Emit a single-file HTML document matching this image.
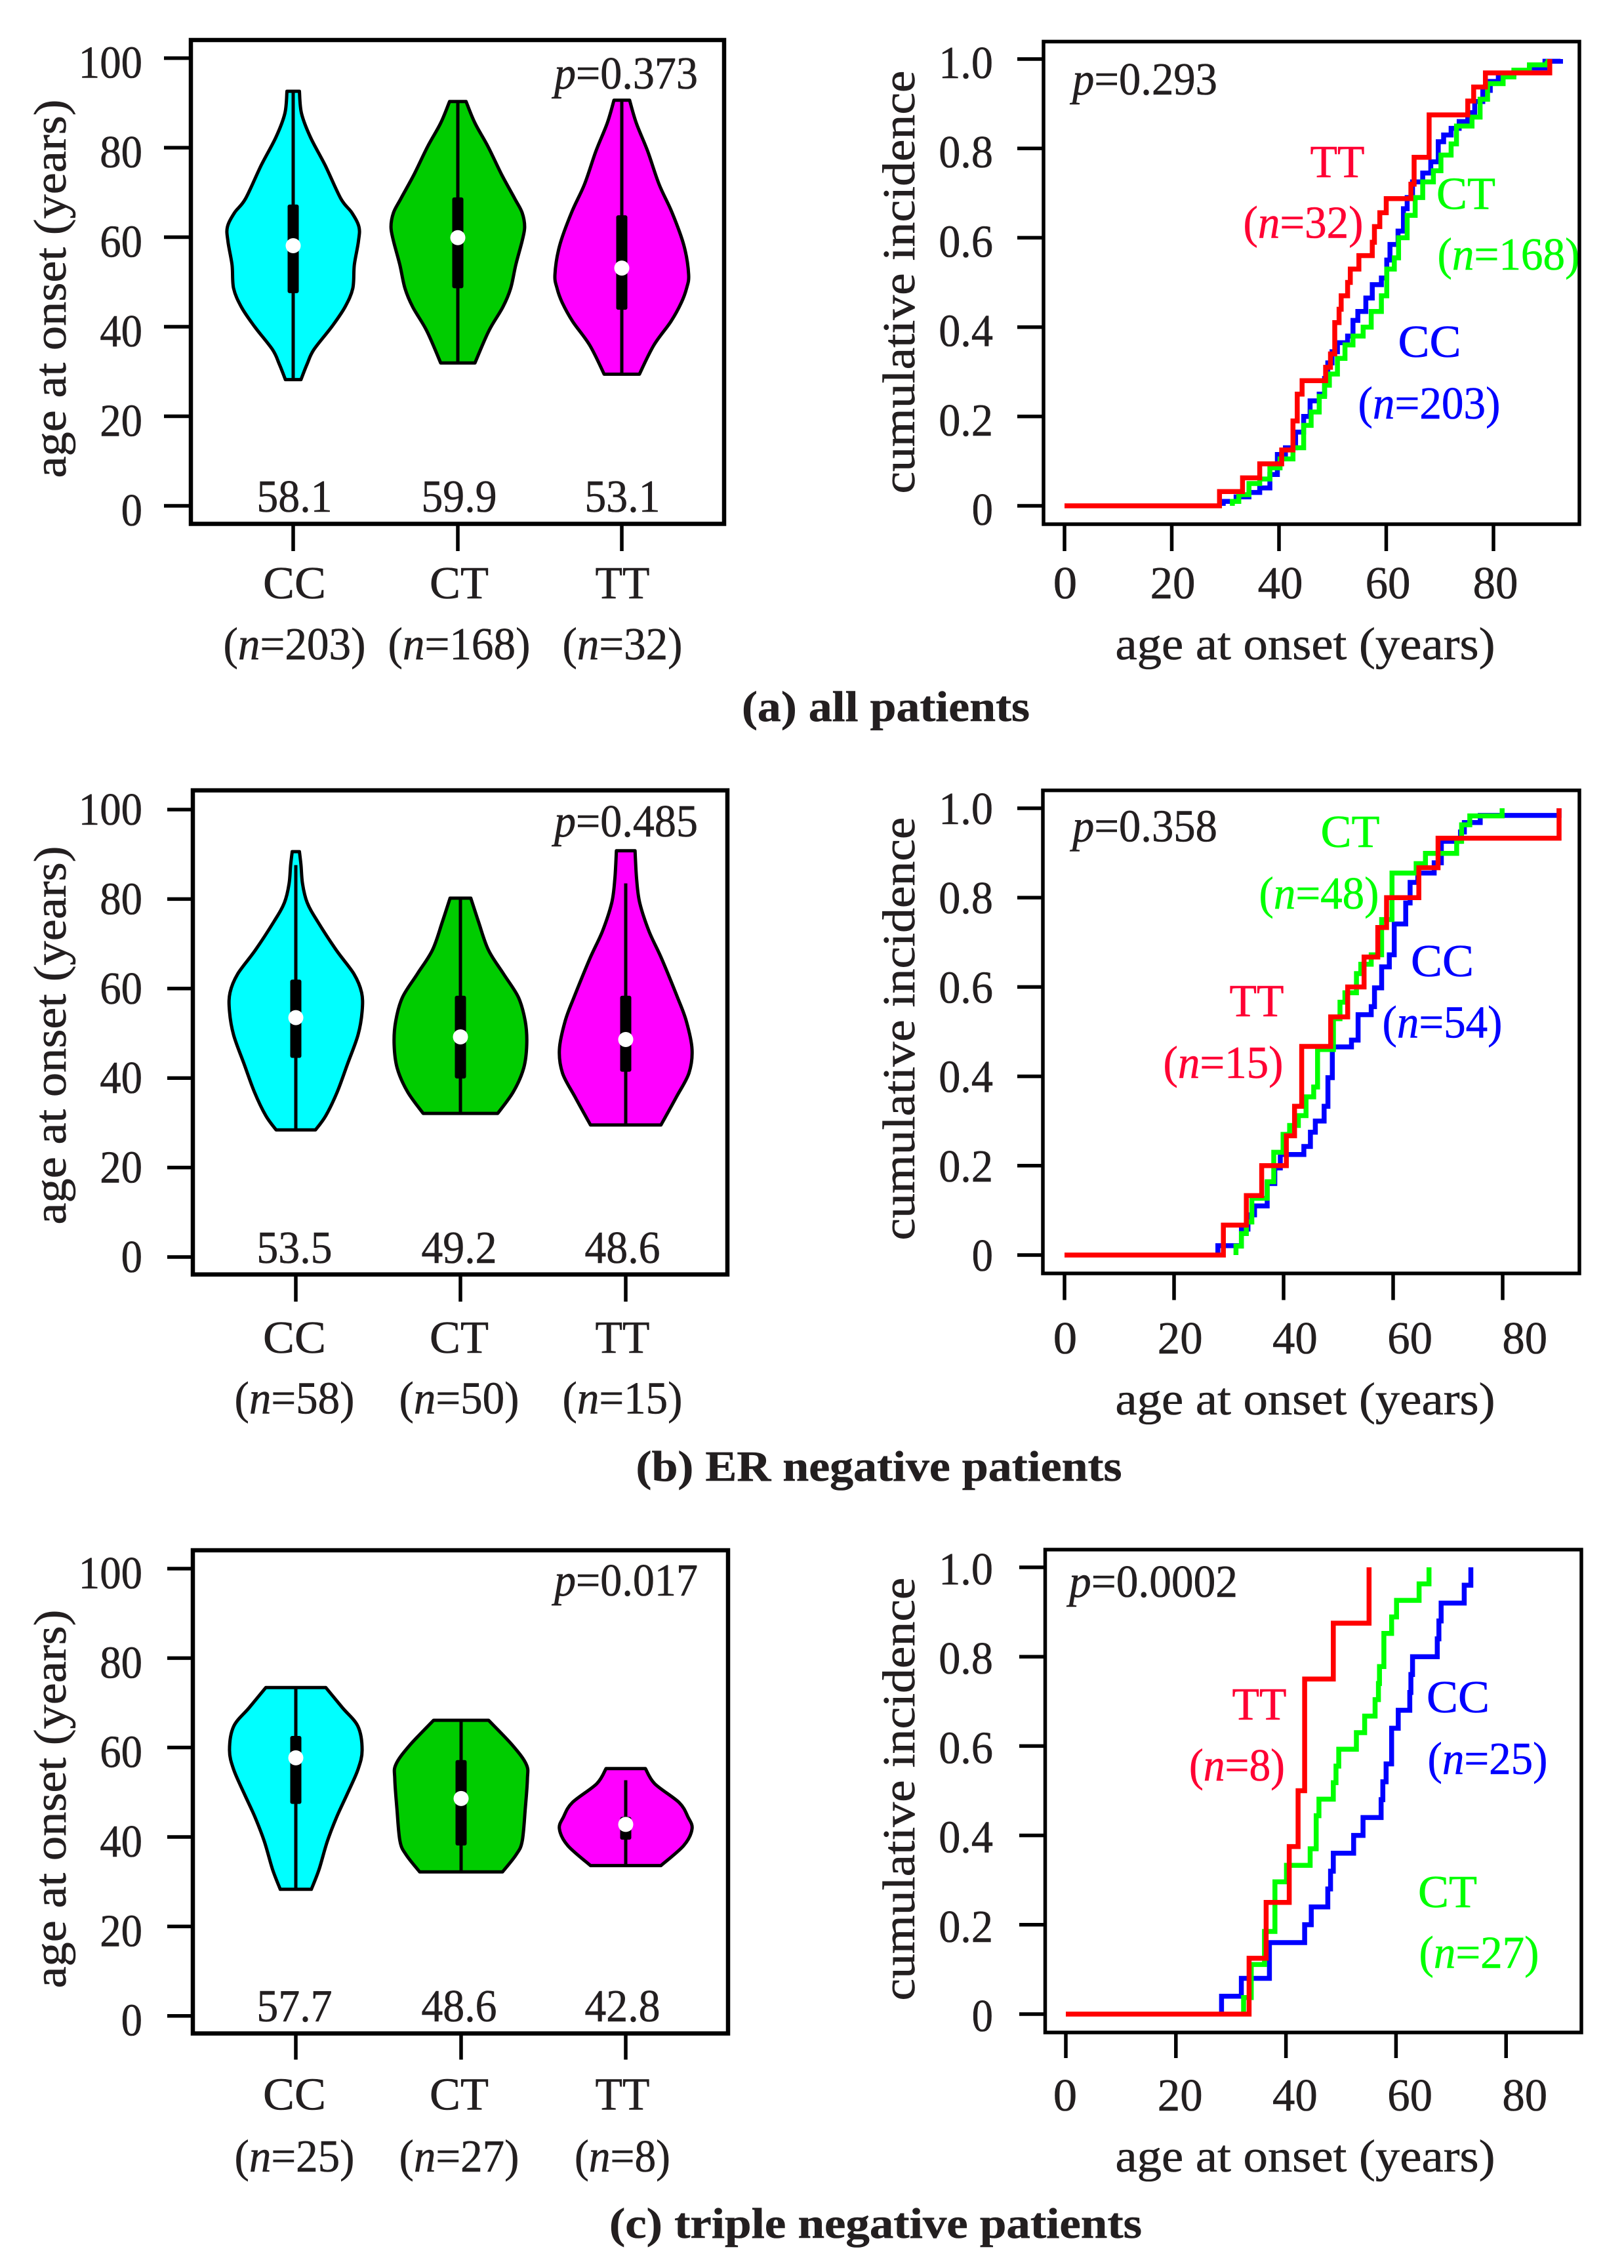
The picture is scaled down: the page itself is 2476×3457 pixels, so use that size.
<!DOCTYPE html>
<html lang="en">
<head>
<meta charset="utf-8">
<title>Age at onset by genotype</title>
<style>
html,body{margin:0;padding:0;background:#fff;}
svg{display:block;}
text{font-family:"Liberation Serif",serif;fill:#231f20;stroke:#231f20;stroke-width:0.6px;}
</style>
</head>
<body>
<svg id="fig" xmlns="http://www.w3.org/2000/svg" width="2476" height="3457" viewBox="0 0 2476 3457"></svg>
<script>
/* ---------- shared labels and ticks ---------- */
const categories = ['CC', 'CT', 'TT'];
const ageTicks = [0, 20, 40, 60, 80, 100];
const incidenceTicks = [0, 0.2, 0.4, 0.6, 0.8, 1.0];
const onsetTicks = [0, 20, 40, 60, 80];
const captions = ['(a) all patients', '(b) ER negative patients', '(c) triple negative patients'];

/* ---------- (a) all patients: violin values ---------- */
const aMedians = [58.1, 59.9, 53.1];
const aCounts = [203, 168, 32];
const aP = 'p=0.373';
const aQ1 = [47.5, 48.6, 43.8];
const aQ3 = [67.3, 68.9, 64.9];
const aWhiskerLow = [28.2, 31.9, 29.4];
const aWhiskerHigh = [92.6, 90.3, 90.6];
const aCCAges = [92.6, 87.7, 82.4, 76, 68.6, 65.5, 62.3, 59.1, 53.8, 48.6, 44.4, 40.1, 34.9, 31.7, 28.2];
const aCCDensity = [12, 16, 33, 62, 92, 113, 127, 126, 118, 115, 100, 75, 40, 27, 15];
const aCTAges = [90.3, 85.5, 80.3, 73.9, 68.6, 65.5, 62.3, 59.1, 53.9, 48.6, 44.4, 39.1, 31.9];
const aCTDensity = [16, 33, 58, 85, 110, 124, 129, 124, 112, 102, 87, 60, 33];
const aTTAges = [90.6, 85.5, 79.2, 71.8, 65.5, 58.1, 51.7, 48.6, 45.4, 41.2, 35.9, 29.4];
const aTTDensity = [15, 28, 50, 72, 97, 120, 129, 125, 115, 95, 62, 34];

/* ---------- (b) ER negative: violin values ---------- */
const bMedians = [53.5, 49.2, 48.6];
const bCounts = [58, 50, 15];
const bP = 'p=0.485';
const bQ1 = [44.5, 39.9, 41.4];
const bQ3 = [62, 58.4, 58.4];
const bWhiskerLow = [28.4, 32.1, 29.5];
const bWhiskerHigh = [87.6, 80.2, 83.5];
const bCCAges = [90.6, 87.6, 83.4, 79.2, 75, 68.6, 63.3, 59.1, 54.9, 49.6, 43.2, 36.9, 31.6, 28.4];
const bCCDensity = [7, 10, 13, 22, 42, 78, 112, 127, 128, 120, 100, 80, 58, 38];
const bCTAges = [80.2, 74.9, 68.6, 63.3, 58, 52.7, 47.5, 42.2, 36.9, 32.1];
const bCTDensity = [20, 35, 54, 83, 112, 125, 128, 122, 102, 72];
const bTTAges = [90.8, 84.5, 79.2, 72.8, 66.5, 58, 52.7, 46.4, 41.1, 35.8, 29.5];
const bTTDensity = [18, 21, 27, 45, 70, 100, 117, 128, 122, 98, 68];

/* ---------- (c) triple negative: violin values ---------- */
const cMedians = [57.7, 48.6, 42.8];
const cCounts = [25, 27, 8];
const cP = 'p=0.017';
const cQ1 = [47.4, 38.1, 39.4];
const cQ3 = [62.6, 57.2, 44.5];
const cWhiskerLow = [28.3, 32.2, 33.6];
const cWhiskerHigh = [73.4, 66.1, 52.7];
const cCCAges = [73.4, 68.9, 64.7, 59.4, 55.1, 49.8, 44.5, 39.1, 32.8, 28.3];
const cCCDensity = [58, 90, 120, 128, 120, 100, 79, 61, 45, 30];
const cCTAges = [66.1, 60.4, 56.2, 53, 46.6, 39.1, 36, 32.2];
const cCTDensity = [53, 100, 126, 128, 124, 118, 106, 80];
const cTTAges = [55.3, 51.9, 47.7, 44.5, 41.8, 38.1, 33.6];
const cTTDensity = [38, 56, 103, 120, 128, 112, 68];

/* ---------- (a) cumulative incidence ---------- */
const aIncP = 'p=0.293';
const aIncCounts = [203, 168, 32];
const aIncCCAges = [29.6, 32, 34.4, 36.4, 38.3, 39.7, 41.2, 43.1, 44.6, 45.8, 47.5, 48.5, 49.1, 49.9, 50.9, 52.8, 53.8, 54.7, 56.2, 57.4, 59.1, 60.1, 60.7, 62.2, 63.2, 63.9, 64.9, 66.8, 68.3, 69.7, 70.7, 72.1, 73.6, 75.2, 76.5, 78, 79.4, 80.9, 83.8, 86.7, 89.6, 92.5];
const aIncCCValues = [0.01, 0.02, 0.03, 0.04, 0.07, 0.115, 0.13, 0.165, 0.2, 0.235, 0.25, 0.285, 0.32, 0.345, 0.365, 0.38, 0.415, 0.435, 0.465, 0.495, 0.51, 0.55, 0.585, 0.615, 0.665, 0.69, 0.725, 0.745, 0.77, 0.815, 0.83, 0.845, 0.86, 0.88, 0.905, 0.93, 0.95, 0.965, 0.97, 0.98, 0.995, 1.0];
const aIncCTAges = [31.3, 32.5, 34.4, 36.4, 38.3, 40.2, 42.6, 44.6, 46, 47.5, 48.5, 49.4, 50.9, 52.3, 53.8, 55.7, 57.2, 59.1, 60.1, 61.5, 62.3, 63.9, 65.4, 66.8, 68.8, 70.2, 72.1, 73.1, 76, 77.5, 78.9, 81.8, 83.8, 86.7, 90, 90.2];
const aIncCTValues = [0.01, 0.025, 0.05, 0.06, 0.085, 0.105, 0.13, 0.18, 0.21, 0.245, 0.27, 0.295, 0.33, 0.36, 0.38, 0.4, 0.435, 0.47, 0.53, 0.555, 0.6, 0.65, 0.69, 0.725, 0.75, 0.785, 0.81, 0.85, 0.87, 0.91, 0.945, 0.96, 0.975, 0.987, 0.99, 1.0];
const aIncTTAges = [28.9, 33.2, 36.4, 40.5, 42.6, 43.4, 44.3, 48.7, 49.6, 50.4, 51.2, 51.6, 52.8, 53.3, 54.9, 57.4, 57.8, 58.8, 60, 64.6, 65.2, 68, 75.2, 76.3, 78.5, 90.5];
const aIncTTValues = [0.032, 0.0625, 0.094, 0.125, 0.19, 0.25, 0.28, 0.31, 0.34, 0.41, 0.44, 0.47, 0.5, 0.53, 0.56, 0.59, 0.625, 0.656, 0.6875, 0.72, 0.78, 0.875, 0.906, 0.9375, 0.969, 1.0];

/* ---------- (b) cumulative incidence ---------- */
const bIncP = 'p=0.358';
const bIncCounts = [54, 48, 15];
const bIncCCAges = [28, 32.3, 33.5, 34.7, 37, 38.4, 39.4, 43.7, 44.9, 45.8, 47.4, 48.1, 48.9, 52.4, 53.6, 56, 56.6, 57.9, 59.3, 60.2, 62.3, 63.1, 64.5, 67.5, 68.8, 72.3, 73, 75.9, 90.3];
const bIncCCValues = [0.021, 0.058, 0.09, 0.11, 0.16, 0.195, 0.225, 0.243, 0.275, 0.3, 0.333, 0.397, 0.466, 0.481, 0.538, 0.556, 0.598, 0.645, 0.672, 0.741, 0.788, 0.834, 0.855, 0.878, 0.926, 0.947, 0.968, 0.984, 1.0];
const bIncCTAges = [31.3, 32.3, 33.2, 34.2, 37, 38.2, 39.9, 41.1, 42.7, 44.1, 45.5, 46.2, 49.1, 50.3, 51.2, 53.3, 54.1, 56, 57.9, 59.8, 64.2, 65.9, 71.6, 72.5, 74, 79.9];
const bIncCTValues = [0.02, 0.048, 0.074, 0.127, 0.164, 0.23, 0.27, 0.29, 0.312, 0.354, 0.376, 0.46, 0.529, 0.566, 0.587, 0.63, 0.651, 0.672, 0.751, 0.855, 0.876, 0.899, 0.926, 0.963, 0.983, 1.0];
const bIncTTAges = [29, 33.2, 36, 40.5, 42, 43.3, 48.6, 51.7, 54.7, 57.2, 58.8, 64.7, 68.2, 90.3];
const bIncTTValues = [0.067, 0.133, 0.2, 0.267, 0.333, 0.467, 0.533, 0.6, 0.667, 0.733, 0.8, 0.867, 0.933, 1.0];

/* ---------- (c) cumulative incidence ---------- */
const cIncP = 'p=0.0002';
const cIncCounts = [25, 27, 8];
const cIncCCAges = [28.3, 31.9, 37, 43.4, 44.6, 47.6, 48.1, 48.6, 52.3, 54, 57.3, 57.6, 58.2, 59.2, 60.4, 62.5, 62.7, 63, 67.5, 67.8, 68.2, 72.4, 73.6];
const cIncCCValues = [0.04, 0.08, 0.16, 0.2, 0.24, 0.28, 0.32, 0.36, 0.4, 0.44, 0.48, 0.52, 0.56, 0.64, 0.68, 0.72, 0.76, 0.8, 0.84, 0.88, 0.92, 0.96, 1.0];
const cIncCTAges = [32.3, 33.7, 36.1, 38, 40.1, 44.4, 45.5, 46, 48.6, 49.1, 49.6, 52.8, 54.3, 56.2, 56.8, 57, 57.8, 59.2, 60.1, 64.2, 66];
const cIncCTValues = [0.037, 0.111, 0.185, 0.296, 0.333, 0.37, 0.444, 0.481, 0.518, 0.555, 0.593, 0.63, 0.667, 0.704, 0.74, 0.778, 0.852, 0.889, 0.926, 0.963, 1.0];
const cIncTTAges = [33.3, 36.4, 40.6, 42.2, 43.4, 48.6, 55.1];
const cIncTTValues = [0.125, 0.25, 0.375, 0.5, 0.75, 0.875, 1.0];

/* ---------- drawing ---------- */
const NS = 'http://www.w3.org/2000/svg';
const fig = document.getElementById('fig');
const VIOLIN_FILL = ['#00ffff', '#00cc00', '#ff00ff'];
const LINE_COLOR = ['#0000ff', '#00ff00', '#ff0000'];
const ANNOT_COLOR = ['#0000ff', '#00ff00', '#ff0033'];

function make(tag, parent, name, attrs) {
  const el = document.createElementNS(NS, tag);
  
  
  for (const k in attrs) el.setAttribute(k, attrs[k]);
  parent.appendChild(el);
  return el;
}
function numWidth(s) {
  let w = 0;
  for (const ch of s) w += ch === '.' ? 18 : 32.4;
  return w;
}
function text(parent, name, str, x, y, width, extra) {
  const attrs = Object.assign({x: x, y: y, 'font-size': 70, 'text-anchor': 'middle', textLength: width, lengthAdjust: 'spacingAndGlyphs'}, extra || {});
  const el = make('text', parent, name, attrs);
  str.split(/([np])(?==)/).forEach(function (part, i) {
    if (i % 2 === 1) {
      const t = document.createElementNS(NS, 'tspan');
      t.setAttribute('font-style', 'italic');
      t.textContent = part;
      el.appendChild(t);
    } else if (part) {
      el.appendChild(document.createTextNode(part));
    }
  });
  return el;
}
function countWidth(n) {
  const digits = String(n).length;
  return digits === 3 ? 217 : (digits === 2 ? 183 : 146);
}
function catWidth(c) { return c === 'CC' ? 96 : (c === 'CT' ? 90 : 83); }
function frame(g, prefix, b, sw) {
  make('rect', g, prefix + '-plot-frame', {x: b.l, y: b.t, width: b.r - b.l, height: b.b - b.t, fill: 'none', stroke: '#000', 'stroke-width': sw});
}
function tick(g, name, x1, y1, x2, y2) {
  make('line', g, name, {x1: x1, y1: y1, x2: x2, y2: y2, stroke: '#000', 'stroke-width': 5.5});
}
/* Catmull-Rom smoothing of one side of a violin outline */
function smoothSide(pts) {
  let s = '';
  for (let i = 0; i < pts.length - 1; i++) {
    const p0 = pts[Math.max(i - 1, 0)], p1 = pts[i], p2 = pts[i + 1], p3 = pts[Math.min(i + 2, pts.length - 1)];
    const c1x = p1[0] + (p2[0] - p0[0]) / 6, c1y = p1[1] + (p2[1] - p0[1]) / 6;
    const c2x = p2[0] - (p3[0] - p1[0]) / 6, c2y = p2[1] - (p3[1] - p1[1]) / 6;
    s += 'C' + c1x.toFixed(1) + ' ' + c1y.toFixed(1) + ' ' + c2x.toFixed(1) + ' ' + c2y.toFixed(1) + ' ' + p2[0].toFixed(1) + ' ' + p2[1].toFixed(1);
  }
  return s;
}

function violinPanel(p, d) {
  const g = make('g', fig, 'panel-' + p.id + '-violin-plot', {});
  const y = function (v) { return p.y0 + (p.y100 - p.y0) * v / 100; };
  const hw = function (v) { return v * 0.79; };

  ageTicks.forEach(function (v) {
    tick(g, 'y-tick-' + v, p.tickLeft, y(v), p.box.l, y(v));
    const s = String(v);
    text(g, 'y-tick-label-' + v, s, 217, y(v) + p.labelDy, numWidth(s), {'text-anchor': 'end'});
  });
  text(g, 'y-axis-title', 'age at onset (years)', 0, 0, 577, {transform: 'translate(100 ' + p.titleY + ') rotate(-90)'});

  categories.forEach(function (cat, i) {
    const cx = p.cx[i];
    const ages = d.ages[i], dens = d.density[i];
    const left = ages.map(function (a, j) { return [cx - hw(dens[j]), y(a)]; });
    const right = ages.map(function (a, j) { return [cx + hw(dens[j]), y(a)]; }).reverse();
    const path = 'M' + left[0][0].toFixed(1) + ' ' + left[0][1].toFixed(1) + smoothSide(left) + 'L' + right[0][0].toFixed(1) + ' ' + right[0][1].toFixed(1) + smoothSide(right) + 'Z';
    make('path', g, 'violin-' + cat, {d: path, fill: VIOLIN_FILL[i], stroke: '#000', 'stroke-width': 5, 'stroke-linejoin': 'round'});
    make('line', g, 'whisker-' + cat, {x1: cx, y1: y(d.low[i]), x2: cx, y2: y(d.high[i]), stroke: '#000', 'stroke-width': 5});
    make('rect', g, 'iqr-box-' + cat, {x: cx - 8.5, y: y(d.q3[i]), width: 17, height: y(d.q1[i]) - y(d.q3[i]), rx: 3, fill: '#000'});
    make('circle', g, 'median-dot-' + cat, {cx: cx, cy: y(d.medians[i]), r: 11.5, fill: '#fff'});
    const ms = d.medians[i].toFixed(1);
    text(g, 'median-label-' + cat, ms, p.lx[i], p.medianY, numWidth(ms));
    tick(g, 'x-tick-' + cat, cx, p.box.b, cx, p.tickBottom);
    text(g, 'x-label-' + cat, cat, p.lx[i], p.catY, catWidth(cat));
    text(g, 'count-label-' + cat, '(n=' + d.counts[i] + ')', p.lx[i], p.countY, countWidth(d.counts[i]));
  });
  frame(g, 'violin', p.box, 6.5);
  text(g, 'p-value', d.p, 845, p.pY, 219, {'text-anchor': 'start'});
}

function incidencePanel(p, d) {
  const g = make('g', fig, 'panel-' + p.id + '-cumulative-incidence-plot', {});
  const x = function (v) { return p.x0 + p.k * v; };
  const y = function (v) { return p.y0 + (p.y1 - p.y0) * v; };

  incidenceTicks.forEach(function (v) {
    tick(g, 'y-tick-' + v, p.tickLeft, y(v), p.box.l, y(v));
    const s = v === 0 ? '0' : v.toFixed(1);
    text(g, 'y-tick-label-' + v, s, 1514, y(v) + p.labelDy, numWidth(s), {'text-anchor': 'end'});
  });
  onsetTicks.forEach(function (v) {
    tick(g, 'x-tick-' + v, x(v), p.box.b, x(v), p.tickBottom);
    const s = String(v);
    text(g, 'x-tick-label-' + v, s, p.lx0 + p.lk * v, p.xLabelY, numWidth(s) + 4);
  });
  text(g, 'y-axis-title', 'cumulative incidence', 0, 0, 645, {transform: 'translate(1394 ' + p.titleY + ') rotate(-90)'});
  text(g, 'x-axis-title', 'age at onset (years)', 1990, p.xTitleY, 579);

  categories.forEach(function (cat, i) {
    const ages = d.ages[i], vals = d.values[i];
    let path = 'M' + x(i === 2 ? 0 : ages[0]).toFixed(1) + ' ' + y(0).toFixed(1);
    ages.forEach(function (a, j) { path += 'H' + x(a).toFixed(1) + 'V' + y(vals[j]).toFixed(1); });
    make('path', g, 'incidence-curve-' + cat, {d: path, fill: 'none', stroke: LINE_COLOR[i], 'stroke-width': 7.5, 'stroke-linejoin': 'miter'});
  });
  categories.forEach(function (cat, i) {
    const a = p.ann[i];
    const paint = 'fill:' + ANNOT_COLOR[i] + ';stroke:' + ANNOT_COLOR[i];
    text(g, 'series-label-' + cat, cat, a[0], a[1], catWidth(cat), {style: paint});
    text(g, 'series-count-' + cat, '(n=' + d.counts[i] + ')', a[2], a[3], countWidth(d.counts[i]), {style: paint});
  });
  frame(g, 'incidence', p.box, 5.5);
  text(g, 'p-value', d.p, p.pX, p.pY, p.pW, {'text-anchor': 'start'});
}

violinPanel(
  {id: 'a', box: {l: 291, t: 61, r: 1104, b: 798.5}, y0: 771, y100: 88.6, cx: [447, 698, 948], lx: [449, 700, 949], tickLeft: 250, tickBottom: 840, labelDy: 30, titleY: 440, medianY: 780, catY: 912, countY: 1005, pY: 135},
  {ages: [aCCAges, aCTAges, aTTAges], density: [aCCDensity, aCTDensity, aTTDensity], medians: aMedians, counts: aCounts, p: aP, q1: aQ1, q3: aQ3, low: aWhiskerLow, high: aWhiskerHigh}
);
violinPanel(
  {id: 'b', box: {l: 294, t: 1204.7, r: 1109, b: 1942.6}, y0: 1916, y100: 1234, cx: [451, 702, 954], lx: [449, 700, 949], tickLeft: 255, tickBottom: 1984, labelDy: 23, titleY: 1578, medianY: 1925, catY: 2062, countY: 2154.5, pY: 1275},
  {ages: [bCCAges, bCTAges, bTTAges], density: [bCCDensity, bCTDensity, bTTDensity], medians: bMedians, counts: bCounts, p: bP, q1: bQ1, q3: bQ3, low: bWhiskerLow, high: bWhiskerHigh}
);
violinPanel(
  {id: 'c', box: {l: 294, t: 2363, r: 1110, b: 3099.5}, y0: 3072.7, y100: 2391, cx: [451, 703, 954], lx: [449, 700, 949], tickLeft: 255, tickBottom: 3139.4, labelDy: 30, titleY: 2742, medianY: 3081, catY: 3215.6, countY: 3310, pY: 2432},
  {ages: [cCCAges, cCTAges, cTTAges], density: [cCCDensity, cCTDensity, cTTDensity], medians: cMedians, counts: cCounts, p: cP, q1: cQ1, q3: cQ3, low: cWhiskerLow, high: cWhiskerHigh}
);
incidencePanel(
  {id: 'a', box: {l: 1591, t: 63.4, r: 2408, b: 799}, x0: 1623, k: 8.175, y0: 771, y1: 90, tickLeft: 1551, tickBottom: 840, labelDy: 29, lx0: 1624, lk: 8.2, xLabelY: 912, titleY: 430, xTitleY: 1005, pX: 1635, pY: 144, pW: 221,
   ann: [[2179.5, 544, 2179, 638], [2235, 318.5, 2300, 411], [2039, 270, 1987, 362.5]]},
  {ages: [aIncCCAges, aIncCTAges, aIncTTAges], values: [aIncCCValues, aIncCTValues, aIncTTValues], counts: aIncCounts, p: aIncP}
);
incidencePanel(
  {id: 'b', box: {l: 1590, t: 1204.7, r: 2408, b: 1941}, x0: 1623, k: 8.35, y0: 1913, y1: 1232, tickLeft: 1551, tickBottom: 1981.6, labelDy: 24, lx0: 1624, lk: 8.76, xLabelY: 2063, titleY: 1568, xTitleY: 2156, pX: 1635, pY: 1282.5, pW: 221,
   ann: [[2199, 1488, 2199, 1581.6], [2058.5, 1291, 2011, 1385], [1916, 1549, 1865, 1643]]},
  {ages: [bIncCCAges, bIncCTAges, bIncTTAges], values: [bIncCCValues, bIncCTValues, bIncTTValues], counts: bIncCounts, p: bIncP}
);
incidencePanel(
  {id: 'c', box: {l: 1593.5, t: 2362, r: 2411, b: 3098}, x0: 1625, k: 8.39, y0: 3070, y1: 2389, tickLeft: 1554, tickBottom: 3137, labelDy: 26, lx0: 1624, lk: 8.76, xLabelY: 3217, titleY: 2727, xTitleY: 3310, pX: 1630, pY: 2434, pW: 257,
   ann: [[2223, 2610, 2268, 2704], [2207, 2907, 2255, 2999.5], [1920, 2621, 1886, 2714]]},
  {ages: [cIncCCAges, cIncCTAges, cIncTTAges], values: [cIncCCValues, cIncCTValues, cIncTTValues], counts: cIncCounts, p: cIncP}
);

[[1350.5, 1099, 439], [1340, 2257, 741], [1335, 3411, 812]].forEach(function (c, i) {
  text(fig, 'caption-' + 'abc'[i], captions[i], c[0], c[1], c[2], {'font-weight': 'bold', 'font-size': 66});
});
</script>
</body>
</html>
